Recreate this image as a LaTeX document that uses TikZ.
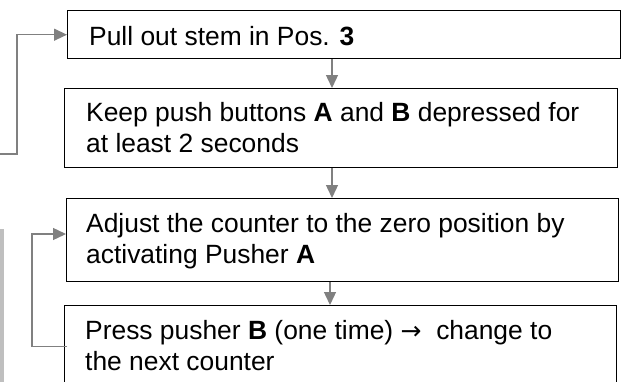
\documentclass[tikz,border=0pt]{standalone}
\usepackage{fontspec}
\setmainfont{Liberation Sans}
\newfontfamily\arrowfont{DejaVu Sans}
\usetikzlibrary{arrows.meta}
\begin{document}
\begin{tikzpicture}[x=1pt,y=-1pt,
  box/.style={draw=black,line width=1.4pt,rectangle,inner sep=0pt,anchor=north west},
  txt/.style={inner sep=0pt,anchor=base west,font=\fontsize{26.4}{31}\selectfont},
  conn/.style={draw=black!50,line width=1.4pt,-{Triangle[length=13pt,width=12pt]}},
  line/.style={draw=black!50,line width=1.4pt}]
\clip (0,0) rectangle (625,381);
% boxes
\node[box,minimum width=553pt,minimum height=48pt] (b1) at (67,10) {};
\node[box,minimum width=553pt,minimum height=79pt] (b2) at (64,88) {};
\node[box,minimum width=552pt,minimum height=83pt] (b3) at (66,198) {};
\node[box,minimum width=552pt,minimum height=90pt] (b4) at (64,305) {};
% texts
\node[txt] (t1) at (89,45) {Pull out stem in Pos. \textbf{3}};
\node[txt] (t2a) at (86,121.7) {Keep push buttons \textbf{A} and \textbf{B} depressed for};
\node[txt] (t2b) at (86,152.7) {at least 2 seconds};
\node[txt] (t3a) at (86,232) {Adjust the counter to the zero position by};
\node[txt] (t3b) at (86,263) {activating Pusher \textbf{A}};
\node[txt] (t4a) at (85,339.5) {Press pusher \textbf{B} (one time) {\arrowfont\fontsize{25}{25}\selectfont →}\ \ change to};
\node[txt] (t4b) at (85,370.5) {the next counter};
% side bar
\fill[black!25] (0,229) rectangle (4,390);
% vertical connectors
\coordinate (c1) at (332,0);
\coordinate (c2) at (330,0);
\draw[conn] (b1.south -| c1) -- (b2.north -| c1);
\draw[conn] (b2.south -| c1) -- (b3.north -| c1);
\draw[conn] (b3.south -| c2) -- (b4.north -| c2);
% loop connectors
\coordinate (s1) at (0,154);
\draw[conn] (s1) -- ++(17,0) |- (b1.west);
\coordinate (s2) at (67,346.7);
\coordinate (e2) at (0,234);
\draw[conn] (s2) -- (32,346.7) |- (b3.west |- e2);
\end{tikzpicture}
\end{document}
